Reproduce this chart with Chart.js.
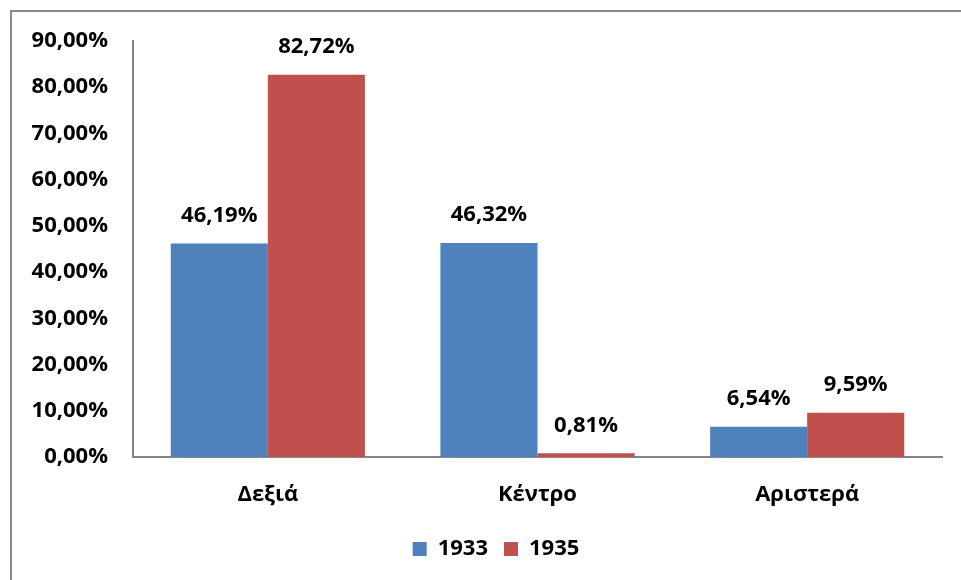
<!DOCTYPE html>
<html>
<head>
<meta charset="utf-8">
<script src="https://cdn.jsdelivr.net/npm/chart.js@4"></script>
<style>
  body { margin: 0; overflow: hidden; background: #fff; }
  #frame { position: absolute; left: 10px; top: 10px; width: 1000px; height: 620px;
           border-left: 2px solid #8a8a8a; border-top: 2px solid #8a8a8a; }
  canvas { position: absolute; left: 0; top: 0; }
</style>
</head>
<body>
<div id="frame"></div>
<canvas id="chart" width="961" height="580"></canvas>
<script>
const categories = ['Δεξιά', 'Κέντρο', 'Αριστερά'];
const values1933 = [46.19, 46.32, 6.54];
const values1935 = [82.72, 0.81, 9.59];
const yTicks = [0, 10, 20, 30, 40, 50, 60, 70, 80, 90];

const fmt = v => v.toFixed(2).replace('.', ',') + '%';
const FONT = '"Open Sans", sans-serif';
const SIZE = 22;

// value labels above every bar
const barLabels = {
    id: 'barLabels',
    afterDatasetsDraw(chart) {
        const ctx = chart.ctx;
        ctx.save();
        ctx.font = 'bold ' + SIZE + 'px ' + FONT;
        ctx.fillStyle = '#000';
        ctx.textAlign = 'center';
        ctx.textBaseline = 'middle';
        chart.data.datasets.forEach((ds, i) => {
            chart.getDatasetMeta(i).data.forEach((bar, j) => {
                ctx.fillText(fmt(ds.data[j]), bar.x, bar.y - 28);
            });
        });
        ctx.restore();
    }
};

// legend in the original sits a bit right of centre
const legendShift = {
    id: 'legendShift',
    afterLayout(chart) {
        chart.legend.left += 25;
        chart.legend.right += 25;
    }
};

document.addEventListener('DOMContentLoaded', () => {
    const ctx = document.getElementById('chart').getContext('2d');
    new Chart(ctx, {
        type: 'bar',
        data: {
            labels: categories,
            datasets: [
                { label: '1933', data: values1933, backgroundColor: '#4F81BD' },
                { label: '1935', data: values1935, backgroundColor: '#C0504D' }
            ]
        },
        options: {
            responsive: false,
            animation: false,
            layout: { padding: { left: 0, top: 41, right: 19, bottom: 10 } },
            datasets: { bar: { categoryPercentage: 0.72, barPercentage: 1.0 } },
            scales: {
                x: {
                    grid: { display: false, drawTicks: false },
                    border: { color: '#868686', width: 2 },
                    ticks: { color: '#000', padding: 25, font: { family: FONT, size: SIZE, weight: 'bold' } },
                    afterFit(scale) { scale.height = 65; }
                },
                y: {
                    min: 0, max: 90,
                    afterBuildTicks(scale) { scale.ticks = yTicks.map(v => ({ value: v })); },
                    grid: { display: false, drawTicks: false },
                    border: { color: '#868686', width: 2 },
                    ticks: { color: '#000', padding: 25, callback: v => fmt(v),
                             font: { family: FONT, size: SIZE, weight: 'bold' } },
                    afterFit(scale) { scale.width = 133; }
                }
            },
            plugins: {
                tooltip: { enabled: false },
                legend: {
                    position: 'bottom',
                    labels: { color: '#000', boxWidth: 14, boxHeight: 14, padding: 16,
                              font: { family: FONT, size: SIZE, weight: 'bold' } }
                }
            }
        },
        plugins: [barLabels, legendShift]
    });
});
</script>
</body>
</html>
